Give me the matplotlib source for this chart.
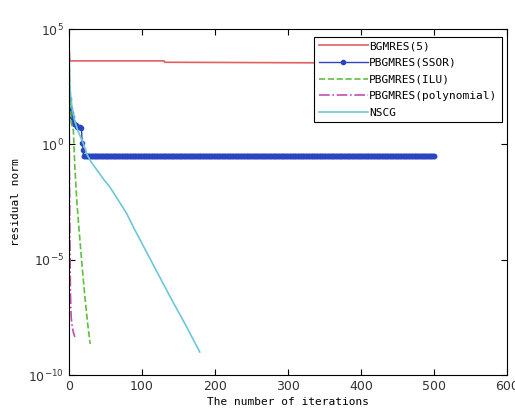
import numpy as np
import matplotlib
matplotlib.use("Agg")
import matplotlib.pyplot as plt

# residual histories (log10 of residual norm)
bgmres_it = [0, 1, 130, 131, 300, 500]
bgmres_log = [4.3, 3.62, 3.62, 3.56, 3.54, 3.52]

ssor_head_it = [0, 1, 2, 3, 4, 5, 7, 9, 11, 13, 15, 17, 18, 19, 20, 21]
ssor_head_log = [1.97, 1.58, 1.45, 1.36, 1.2, 0.97, 0.9, 0.85, 0.75, 0.75, 0.75, 0.7, 0.06, -0.25, -0.5, -0.5]
ssor_tail_start = 22
ssor_tail_end = 500
ssor_tail_log = -0.5

ilu_it = [0, 1, 2, 3, 4, 6, 8, 11, 14, 18, 22, 26, 29]
ilu_log = [4.5, 2.2, 1.5, 1.0, 0.8, 0.6, -1.0, -2.6, -3.8, -5.3, -6.7, -7.9, -8.65]

poly_it = [0, 0.5, 1, 1.5, 2, 3, 4, 5, 6, 7, 8]
poly_log = [3.5, -1.0, -3.1, -5.0, -6.5, -7.5, -7.8, -8.0, -8.15, -8.25, -8.35]

nscg_it = [0, 1, 3, 5, 8, 12, 16, 20, 25, 30, 38, 47, 56, 67, 79, 90, 101, 120, 140, 160, 179]
nscg_log = [4.3, 2.6, 1.9, 1.4, 1.0, 0.6, 0.3, 0.0, -0.46, -0.75, -1.1, -1.5, -1.85, -2.4, -3.0, -3.7, -4.36, -5.5, -6.7, -7.85, -9.0]

labels = ["BGMRES(5)", "PBGMRES(SSOR)", "PBGMRES(ILU)", "PBGMRES(polynomial)", "NSCG"]

ssor_it = ssor_head_it + list(range(ssor_tail_start, ssor_tail_end + 1))
ssor_log = ssor_head_log + [ssor_tail_log] * (ssor_tail_end - ssor_tail_start + 1)

fig = plt.figure(figsize=(5.15, 4.09), dpi=100)
ax = fig.add_axes([0.134, 0.083, 0.851, 0.846])

ax.semilogy(bgmres_it, 10.0 ** np.array(bgmres_log), color="#e06060", lw=1.2, label=labels[0])
ax.semilogy(ssor_it, 10.0 ** np.array(ssor_log), color="#2a45c0", lw=1.0,
            marker=".", markersize=6, label=labels[1])
ax.semilogy(ilu_it, 10.0 ** np.array(ilu_log), color="#5cc040", lw=1.2, ls="--", label=labels[2])
ax.semilogy(poly_it, 10.0 ** np.array(poly_log), color="#c050b0", lw=1.2, ls="-.", label=labels[3])
ax.semilogy(nscg_it, 10.0 ** np.array(nscg_log), color="#6cc8d8", lw=1.2, label=labels[4])

ax.set_xlim(0, 600)
ax.set_ylim(1e-10, 1e5)
ax.set_xticks([0, 100, 200, 300, 400, 500, 600])
ax.set_yticks([1e-10, 1e-5, 1e0, 1e5])
ax.minorticks_off()
ax.tick_params(direction="in", top=True, right=True, labelsize=9, length=4,
               labelcolor="#333333")

mono = "DejaVu Sans Mono"
ax.set_xlabel("The number of iterations", family=mono, fontsize=8, labelpad=3)
ax.set_ylabel("residual norm", family=mono, fontsize=8, labelpad=5)

leg = ax.legend(loc="upper right", prop={"family": mono, "size": 8},
                fancybox=False, framealpha=1, edgecolor="black",
                handlelength=4.4, handletextpad=0.1, borderpad=0.4,
                labelspacing=0.6, borderaxespad=0,
                bbox_to_anchor=(0.987, 0.978))
leg.get_frame().set_linewidth(0.8)

fig.savefig("out.png", dpi=100)
